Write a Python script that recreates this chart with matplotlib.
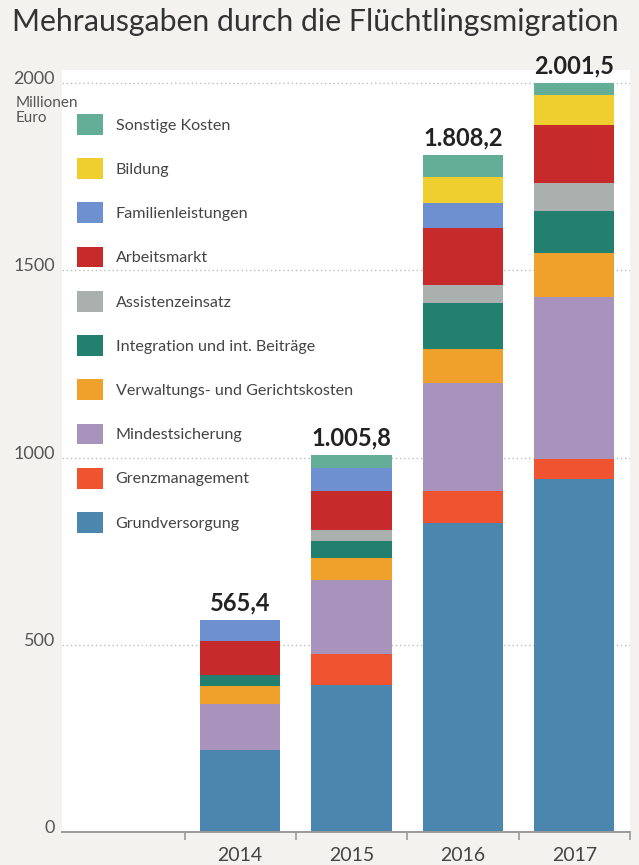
import matplotlib
matplotlib.use("Agg")
import matplotlib.pyplot as plt
import matplotlib.transforms as mtransforms
import numpy as np

# data (Millionen Euro)
years = ["2014", "2015", "2016", "2017"]
totals_text = ["565,4", "1.005,8", "1.808,2", "2.001,5"]

categories = [
    "Grundversorgung",
    "Grenzmanagement",
    "Mindestsicherung",
    "Verwaltungs- und Gerichtskosten",
    "Integration und int. Beiträge",
    "Assistenzeinsatz",
    "Arbeitsmarkt",
    "Familienleistungen",
    "Bildung",
    "Sonstige Kosten",
]

grundversorgung = [218.7, 392.9, 825.9, 944.0]
grenzmanagement = [0.0, 81.8, 84.3, 53.3]
mindestsicherung = [122.7, 197.3, 289.1, 432.8]
verwaltung = [48.9, 58.7, 90.7, 117.3]
integration = [28.7, 47.1, 122.7, 112.0]
assistenz = [0.0, 27.5, 48.8, 73.1]
arbeitsmarkt = [91.3, 106.7, 152.8, 155.5]
familien = [55.1, 61.3, 66.7, 0.0]
bildung = [0.0, 0.0, 69.3, 80.0]
sonstige = [0.0, 32.5, 57.9, 33.5]

colors = ["#4a86ad", "#f0532f", "#a893bd", "#f0a12b", "#23806f",
          "#a9b0ae", "#c62a2a", "#6f90d0", "#eecf2f", "#64ae98"]

series = [grundversorgung, grenzmanagement, mindestsicherung, verwaltung,
          integration, assistenz, arbeitsmarkt, familien, bildung, sonstige]

fig = plt.figure(figsize=(6.39, 8.65), dpi=100, facecolor="#f3f2ee")
ax = fig.add_axes([62 / 639, 33 / 865, 568 / 639, 762 / 865])
ax.set_facecolor("white")

x = np.arange(1, len(years) + 1)
bottom = np.zeros(len(years))
handles = []
for vals, col, name in zip(series, colors, categories):
    b = ax.bar(x, vals, width=0.72, bottom=bottom, color=col, linewidth=0, label=name)
    handles.append(b)
    bottom += np.array(vals)

for xi, tot, txt in zip(x, bottom, totals_text):
    ax.annotate(txt, (xi, tot), xytext=(0, 4), textcoords="offset points",
                ha="center", va="bottom", fontsize=17, fontweight="bold",
                family="Lato", color="#222222", annotation_clip=False)

ax.set_xlim(-0.6, 4.5)
ax.set_ylim(0, 2035)

yticks = [0, 500, 1000, 1500, 2000]
ax.set_yticks(yticks)
ax.set_yticklabels([])
ax.tick_params(axis="y", length=0)
ax.yaxis.grid(True, linestyle=(0, (1, 2)), color="#bdbdbd", linewidth=1.0)
ax.set_axisbelow(True)

off = mtransforms.ScaledTranslation(-7 / 100, 4 / 100, fig.dpi_scale_trans)
trans = mtransforms.blended_transform_factory(ax.transAxes, ax.transData) + off
for t in yticks:
    ax.text(0, t, str(t), transform=trans, ha="right", va="center",
            fontsize=13, family="Lato", color="#555555")
ax.text(16 / 639, 1 - 96 / 865, "Millionen\nEuro", transform=fig.transFigure,
        ha="left", va="top", fontsize=11, family="Lato", color="#555555",
        linespacing=1.05)

ax.set_xticks(x)
ax.set_xticklabels(years, fontsize=14, family="Lato", color="#444444")
ax.set_xticks(np.arange(0.5, 4.6, 1.0), minor=True)
ax.tick_params(axis="x", which="major", length=0, pad=11)
ax.tick_params(axis="x", which="minor", length=6, color="#9a9a9a", width=1.2)

for s in ["top", "right", "left"]:
    ax.spines[s].set_visible(False)
ax.spines["bottom"].set_color("#9a9a9a")
ax.spines["bottom"].set_linewidth(1.4)

ax.legend(handles[::-1], categories[::-1], loc="upper left",
          bbox_to_anchor=(77 / 639, 1 - 114 / 865), bbox_transform=fig.transFigure,
          frameon=False, prop={"family": "Lato", "size": 11.6},
          handlelength=1.6, handleheight=1.6, labelspacing=1.46,
          handletextpad=0.8, borderpad=0, borderaxespad=0, labelcolor="#444444")

fig.text(12 / 639, 1 - 8 / 865, "Mehrausgaben durch die Flüchtlingsmigration",
         ha="left", va="top", fontsize=21.8, family="Lato", color="#333333")

fig.savefig("out.png", dpi=100, facecolor=fig.get_facecolor())
